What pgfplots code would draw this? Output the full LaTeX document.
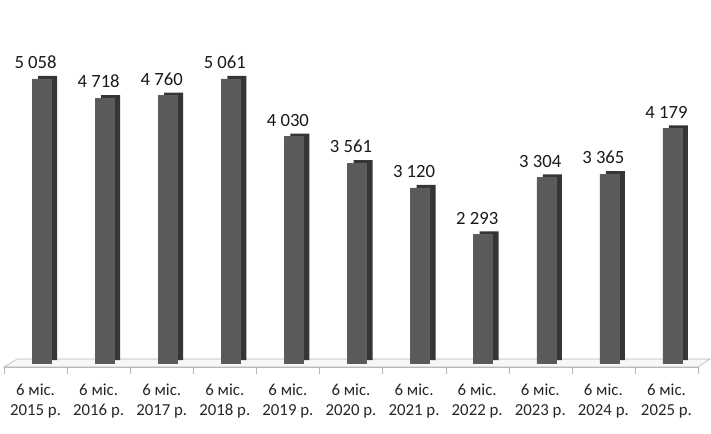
\documentclass[border=0pt]{standalone}
\usepackage{fontspec}
\setmainfont{Carlito}
\usepackage{pgfplots}
\pgfplotsset{compat=1.18}
\usepackage{pgfplotstable}
\definecolor{barfront}{HTML}{5A5A5A}
\definecolor{barside}{HTML}{353535}
\definecolor{floorline}{HTML}{B4B4B4}
\pgfplotstableread{
x y
0 5058
1 4718
2 4760
3 5061
4 4030
5 3561
6 3120
7 2293
8 3304
9 3365
10 4179
}\datatable
\begin{document}
\begin{tikzpicture}
\path[use as bounding box] (0pt,0pt) rectangle (533.25pt,324.75pt);
\begin{axis}[
  at={(3pt,49.5pt)}, anchor=south west,
  scale only axis, width=520.5pt, height=275.25pt,
  xmin=-0.5, xmax=10.5, ymin=-71, ymax=6465,
  axis x line=bottom, axis y line=none,
  axis line style={-, draw=floorline},
  clip=false,
  xtick={0,...,10},
  xticklabels={{6 міс.\\2015 р.},{6 міс.\\2016 р.},{6 міс.\\2017 р.},{6 міс.\\2018 р.},{6 міс.\\2019 р.},{6 міс.\\2020 р.},{6 міс.\\2021 р.},{6 міс.\\2022 р.},{6 міс.\\2023 р.},{6 міс.\\2024 р.},{6 міс.\\2025 р.}},
  major tick length=0pt,
  minor xtick={-0.5,0.5,...,10.5},
  minor tick length=5pt,
  tick align=outside,
  minor tick style={draw=floorline},
  xticklabel style={align=center, font=\fontsize{12.6}{14.8}\selectfont, text=black!85, yshift=-9.5pt},
  /pgf/number format/assume math mode=true,
]
\fill[white!97!black, draw=floorline] (rel axis cs:0,0) -- (rel axis cs:1,0) -- ([shift={(9pt,6pt)}]rel axis cs:1,0) -- ([shift={(9.75pt,6pt)}]rel axis cs:0,0) -- cycle;
\addplot[ybar, bar width=14.25pt, bar shift=9pt, yshift=2.25pt, fill=barside, draw=none] table[x=x,y=y] {\datatable};
\addplot[ybar, bar width=14.25pt, bar shift=4.5pt, fill=barfront, draw=barside!80,
  nodes near coords={\pgfmathprintnumber[1000 sep={\ }]{\pgfplotspointmeta}},
  every node near coord/.append style={font=\fontsize{14}{16}\selectfont, text=black!90, yshift=4pt}] table[x=x,y=y] {\datatable};
\end{axis}
\end{tikzpicture}
\end{document}
